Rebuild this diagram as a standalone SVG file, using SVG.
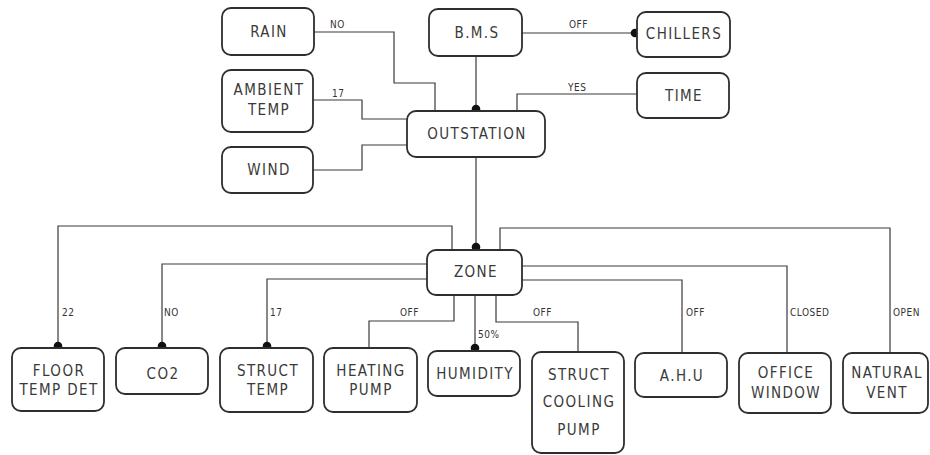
<svg xmlns="http://www.w3.org/2000/svg" width="930" height="455" viewBox="0 0 930 455">
<style>
.box{fill:#fff;stroke:#2e2e2e;stroke-width:1.8}
.t{font-family:"DejaVu Sans Condensed","DejaVu Sans",sans-serif;font-size:15px;fill:#3a3a3a;text-anchor:middle;dominant-baseline:central;letter-spacing:1.4px}
.l{font-family:"DejaVu Sans Condensed","DejaVu Sans",sans-serif;font-size:10px;fill:#333;letter-spacing:0.5px}
.c{fill:none;stroke:#3a3a3a;stroke-width:1.2}
.d{fill:#111}
</style>
<rect width="930" height="455" fill="#fff"/>
<g id="connectors">
<polyline class="c" points="314,32 394,32 394,83 435,83 435,111"/>
<polyline class="c" points="313,100 362,100 362,119 407,119"/>
<polyline class="c" points="313,170 362,170 362,145 407,145"/>
<line class="c" x1="476" y1="56" x2="476" y2="111"/>
<line class="c" x1="522" y1="33" x2="635" y2="33"/>
<polyline class="c" points="637,94 517,94 517,111"/>
<line class="c" x1="476" y1="157" x2="476" y2="250"/>
<polyline class="c" points="452,250 452,226 58,226 58,348"/>
<polyline class="c" points="428,264 162,264 162,348"/>
<polyline class="c" points="428,279 267,279 267,348"/>
<polyline class="c" points="454,295 454,321 369,321 369,348"/>
<line class="c" x1="475" y1="295" x2="475" y2="351"/>
<polyline class="c" points="496,295 496,322 578,322 578,352"/>
<polyline class="c" points="522,280 682,280 682,353"/>
<polyline class="c" points="522,266 787,266 787,353"/>
<polyline class="c" points="500,250 500,228 890,228 890,353"/>
<circle class="d" cx="476" cy="109" r="4.3"/>
<circle class="d" cx="635" cy="33" r="4.3"/>
<circle class="d" cx="476" cy="247" r="4.3"/>
<circle class="d" cx="58" cy="346" r="4.3"/>
<circle class="d" cx="162" cy="346" r="4.3"/>
<circle class="d" cx="267" cy="346" r="4.3"/>
<circle class="d" cx="475" cy="348" r="4.3"/>
<text class="l" x="330" y="28">NO</text>
<text class="l" x="332" y="97">17</text>
<text class="l" x="569" y="28">OFF</text>
<text class="l" x="568" y="91">YES</text>
<text class="l" x="62" y="316">22</text>
<text class="l" x="164" y="316">NO</text>
<text class="l" x="270" y="316">17</text>
<text class="l" x="400" y="316">OFF</text>
<text class="l" x="478" y="338">50%</text>
<text class="l" x="533" y="316">OFF</text>
<text class="l" x="686" y="316">OFF</text>
<text class="l" x="790" y="316">CLOSED</text>
<text class="l" x="893" y="316">OPEN</text>
</g>
<g id="rain"><rect class="box" x="222" y="8" width="92" height="47" rx="9"/><text class="t" x="269" y="32">RAIN</text></g>
<g id="ambient"><rect class="box" x="222" y="70" width="91" height="62" rx="9"/><text class="t" x="269" y="90">AMBIENT</text><text class="t" x="269" y="110">TEMP</text></g>
<g id="wind"><rect class="box" x="222" y="147" width="91" height="46" rx="9"/><text class="t" x="269" y="170">WIND</text></g>
<g id="bms"><rect class="box" x="429" y="9" width="93" height="47" rx="9"/><text class="t" x="477" y="33">B.M.S</text></g>
<g id="chillers"><rect class="box" x="637" y="12" width="93" height="45" rx="9"/><text class="t" x="684" y="34">CHILLERS</text></g>
<g id="time"><rect class="box" x="637" y="73" width="92" height="45" rx="9"/><text class="t" x="684" y="96">TIME</text></g>
<g id="outstation"><rect class="box" x="407" y="111" width="138" height="46" rx="9"/><text class="t" x="477" y="134">OUTSTATION</text></g>
<g id="zone"><rect class="box" x="427" y="250" width="95" height="45" rx="9"/><text class="t" x="476" y="272">ZONE</text></g>
<g id="floor"><rect class="box" x="12" y="348" width="92" height="63" rx="9"/><text class="t" x="59" y="371">FLOOR</text><text class="t" x="59" y="390">TEMP DET</text></g>
<g id="co2"><rect class="box" x="116" y="348" width="92" height="46" rx="9"/><text class="t" x="163" y="374">CO2</text></g>
<g id="structtemp"><rect class="box" x="220" y="348" width="93" height="64" rx="9"/><text class="t" x="268" y="371">STRUCT</text><text class="t" x="268" y="390">TEMP</text></g>
<g id="heating"><rect class="box" x="324" y="348" width="93" height="64" rx="9"/><text class="t" x="371" y="371">HEATING</text><text class="t" x="371" y="390">PUMP</text></g>
<g id="humidity"><rect class="box" x="428" y="351" width="92" height="45" rx="9"/><text class="t" x="475" y="374">HUMIDITY</text></g>
<g id="cooling"><rect class="box" x="532" y="352" width="92" height="101" rx="9"/><text class="t" x="579" y="375">STRUCT</text><text class="t" x="579" y="402">COOLING</text><text class="t" x="579" y="430">PUMP</text></g>
<g id="ahu"><rect class="box" x="635" y="353" width="92" height="44" rx="9"/><text class="t" x="682" y="376">A.H.U</text></g>
<g id="office"><rect class="box" x="739" y="353" width="92" height="60" rx="9"/><text class="t" x="786" y="373">OFFICE</text><text class="t" x="786" y="393">WINDOW</text></g>
<g id="natural"><rect class="box" x="843" y="353" width="85" height="60" rx="9"/><text class="t" x="887" y="373">NATURAL</text><text class="t" x="887" y="393">VENT</text></g>
</svg>
